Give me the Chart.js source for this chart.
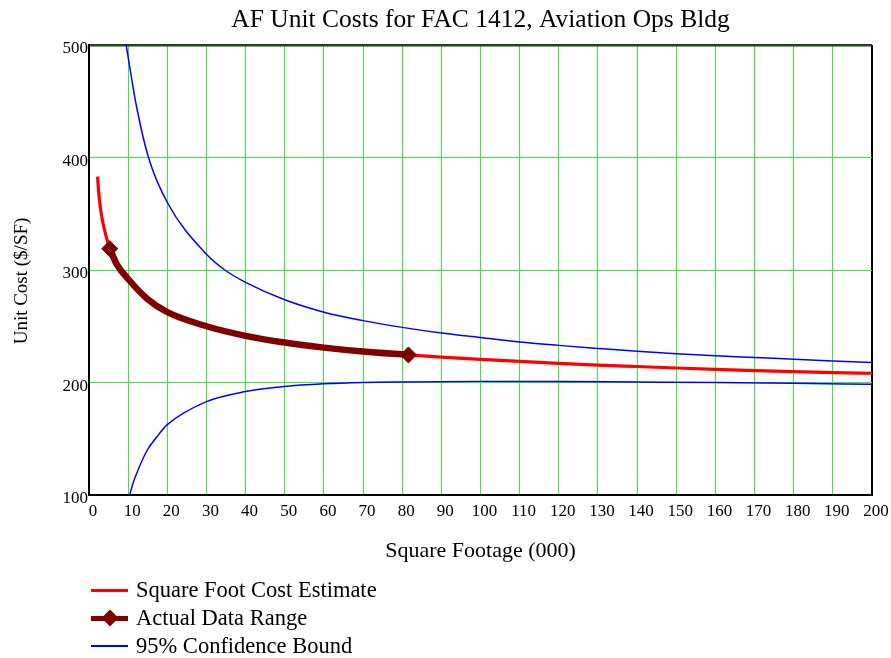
<!DOCTYPE html>
<html>
<head>
<meta charset="utf-8">
<title>AF Unit Costs for FAC 1412, Aviation Ops Bldg</title>
<script src="https://cdn.jsdelivr.net/npm/chart.js@4/dist/chart.umd.min.js"></script>
<style>
  html, body { margin: 0; padding: 0; background: #ffffff; }
  #wrap { position: relative; width: 891px; height: 658px; }
  #chart { position: absolute; left: 0; top: 0; }
  .legend { position: absolute; left: 91px; top: 576px; font-family: 'Liberation Serif', 'Times New Roman', serif; font-size: 22.5px; color: #000; }
  .row { position: relative; height: 28px; width: 340px; }
  .sample { position: absolute; left: 0; width: 37px; }
  .label { position: absolute; left: 45px; top: 0px; line-height: 28px; white-space: nowrap; }
  .diamond { position: absolute; width: 12px; height: 12px; background: #800000; transform: rotate(45deg); }
</style>
</head>
<body>
<div id="wrap">
  <canvas id="chart" width="891" height="658"></canvas>
  <div class="legend" id="legend"></div>
</div>
<script>
// Square Foot Cost Estimate (x in thousands of square feet, y in $/SF)
const estimateX = [2.2, 2.5, 3.0, 3.8, 5.3, 7.1, 10, 15, 20, 30, 40, 50, 60, 70, 81.6, 90, 100, 110, 120, 130, 140, 150, 160, 170, 180, 190, 200];
const estimateY = [383, 368, 353, 338, 319, 305, 292, 274, 262.5, 250, 241.5, 235.5, 231, 227.5, 224.5, 222.5, 220.5, 218.7, 217, 215.5, 214.2, 212.9, 211.7, 210.6, 209.6, 208.8, 208.2];

// Actual Data Range (portion of the estimate covered by data)
const actualX = [5.3, 7.1, 10, 15, 20, 30, 40, 50, 60, 70, 81.6];
const actualY = [319, 305, 292, 274, 262.5, 250, 241.5, 235.5, 231, 227.5, 224.5];

// 95% Confidence Bound, upper
const upperX = [9.5, 10.8, 12.1, 15.2, 20, 30, 34.7, 40, 50, 60, 70, 80, 90, 100, 110, 120, 130, 140, 150, 160, 170, 180, 190, 200];
const upperY = [500, 472, 446, 400, 360, 314, 300, 289, 273.5, 262.5, 255, 249, 244, 240, 236, 233, 230.3, 227.7, 225.5, 223.7, 222.2, 220.7, 219.2, 217.7];

// 95% Confidence Bound, lower
const lowerX = [10.4, 11.2, 12.5, 14.9, 17.4, 20, 30, 40, 50, 60, 70, 80, 100, 120, 140, 160, 180, 200];
const lowerY = [100, 110, 122, 140, 152, 162.5, 183, 192, 196.5, 198.8, 200, 200.5, 201, 201, 200.5, 200, 199.3, 198.4];

// Axis settings
const xMin = 0, xMax = 200, xStep = 10;
const yMin = 100, yMax = 500, yStep = 100;

const titleText = 'AF Unit Costs for FAC 1412, Aviation Ops Bldg';
const xTitle = 'Square Footage (000)';
const yTitle = 'Unit Cost ($/SF)';
const legendNames = ['Square Foot Cost Estimate', 'Actual Data Range', '95% Confidence Bound'];

const pts = (xs, ys) => xs.map((x, i) => ({ x: x, y: ys[i] }));
const FONT = "'Liberation Serif', 'Times New Roman', serif";
const GRID_GREEN = '#33ee33';

// Chart title centred over the plotting area, and the vertical axis title
const plotTitles = {
  id: 'plotTitles',
  afterDraw(chart) {
    const { ctx, chartArea } = chart;
    ctx.save();
    ctx.fillStyle = '#000';
    ctx.textAlign = 'center';
    ctx.textBaseline = 'middle';
    ctx.font = '25.5px ' + FONT;
    ctx.fillText(titleText, (chartArea.left + chartArea.right) / 2, 20);
    ctx.translate(22, 281);
    ctx.rotate(-Math.PI / 2);
    ctx.font = '19px ' + FONT;
    ctx.fillText(yTitle, 0, 0);
    ctx.restore();
  }
};

new Chart(document.getElementById('chart'), {
  type: 'line',
  data: {
    datasets: [
      {
        label: legendNames[1],
        data: pts(actualX, actualY),
        borderColor: '#800000',
        backgroundColor: '#800000',
        borderWidth: 6.5,
        pointStyle: 'rectRot',
        pointRadius: c => (c.dataIndex === 0 || c.dataIndex === actualX.length - 1) ? 8 : 0,
        pointBorderWidth: 1,
        cubicInterpolationMode: 'monotone',
        order: 0
      },
      {
        label: legendNames[0],
        data: pts(estimateX, estimateY),
        borderColor: '#ff0000',
        borderWidth: 3.2,
        pointRadius: 0,
        cubicInterpolationMode: 'monotone',
        order: 1
      },
      {
        label: legendNames[2],
        data: pts(upperX, upperY),
        borderColor: '#0000ff',
        borderWidth: 1.5,
        pointRadius: 0,
        cubicInterpolationMode: 'monotone',
        order: 2
      },
      {
        label: legendNames[2] + ' (lower)',
        data: pts(lowerX, lowerY),
        borderColor: '#0000ff',
        borderWidth: 1.5,
        pointRadius: 0,
        cubicInterpolationMode: 'monotone',
        order: 3
      }
    ]
  },
  options: {
    responsive: false,
    animation: false,
    events: [],
    layout: { padding: { left: 0, top: 45, right: 19, bottom: 83 } },
    plugins: { legend: { display: false }, tooltip: { enabled: false }, title: { display: false } },
    scales: {
      x: {
        type: 'linear',
        min: xMin, max: xMax,
        afterFit: s => { s.height = 80; },
        ticks: {
          stepSize: xStep,
          color: '#000',
          font: { family: FONT, size: 17 },
          padding: 6,
          labelOffset: 4,
          maxRotation: 0,
          autoSkip: false
        },
        grid: {
          drawTicks: false,
          color: c => (c.tick && c.tick.value === xMax) ? '#000' : GRID_GREEN,
          lineWidth: c => (c.tick && c.tick.value === xMax) ? 2 : 1
        },
        border: { color: '#000', width: 2 },
        title: {
          display: true, text: xTitle, color: '#000',
          font: { family: FONT, size: 22 },
          padding: { top: 0, bottom: 11 }
        }
      },
      y: {
        type: 'linear',
        min: yMin, max: yMax,
        afterFit: s => { s.width = 89; },
        ticks: {
          stepSize: yStep,
          color: '#000',
          font: { family: FONT, size: 17 },
          padding: 1,
          labelOffset: 4
        },
        grid: {
          drawTicks: false,
          color: c => (c.tick && c.tick.value === yMax) ? '#23441f' : GRID_GREEN,
          lineWidth: c => (c.tick && c.tick.value === yMax) ? 2.5 : 1
        },
        border: { color: '#000', width: 2 },
        title: { display: false }
      }
    }
  },
  plugins: [plotTitles]
});

// Legend below the chart
const legend = document.getElementById('legend');
const rows = [
  { name: legendNames[0], color: '#ff0000', width: 3, diamond: false },
  { name: legendNames[1], color: '#800000', width: 5, diamond: true },
  { name: legendNames[2], color: '#0000ff', width: 1.5, diamond: false }
];
rows.forEach(r => {
  const row = document.createElement('div');
  row.className = 'row';
  const line = document.createElement('div');
  line.className = 'sample';
  line.style.top = (14 - r.width / 2) + 'px';
  line.style.height = r.width + 'px';
  line.style.background = r.color;
  row.appendChild(line);
  if (r.diamond) {
    const d = document.createElement('div');
    d.className = 'diamond';
    d.style.left = '12.5px';
    d.style.top = '8px';
    row.appendChild(d);
  }
  const label = document.createElement('div');
  label.className = 'label';
  label.textContent = r.name;
  row.appendChild(label);
  legend.appendChild(row);
});
</script>
</body>
</html>
